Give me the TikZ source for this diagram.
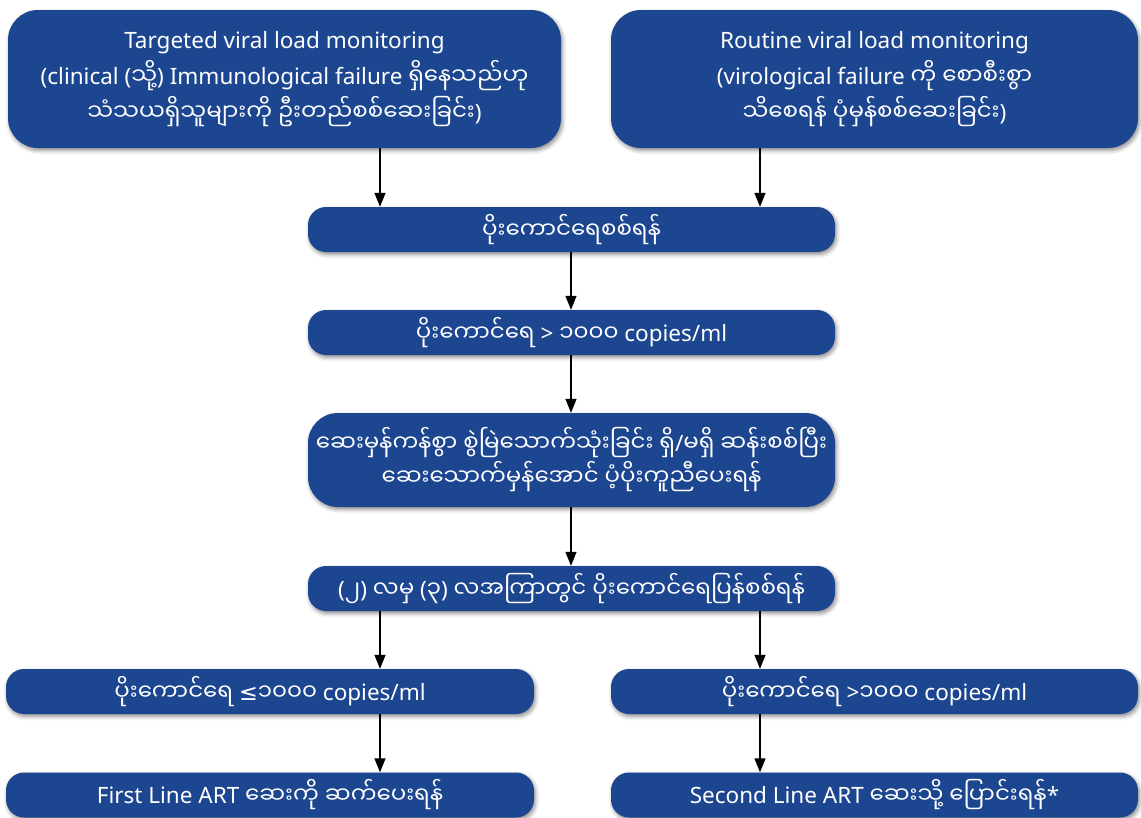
\documentclass[tikz,border=0pt]{standalone}
\usepackage{fontspec}
\setmainfont{Noto Sans}
\newfontfamily\my[Script=Myanmar,Scale=1.02]{Noto Sans Myanmar UI}
\newfontfamily\djv{DejaVu Sans}
\usetikzlibrary{arrows.meta,shadows.blur}
\definecolor{boxblue}{HTML}{1D4690}
\tikzset{
  box/.style={draw=none, fill=boxblue, text=white, align=center, inner sep=0pt,
    font=\fontsize{22.5}{36}\selectfont,
    blur shadow={shadow xshift=1.5pt, shadow yshift=-2.5pt, shadow blur radius=4pt, shadow opacity=45}},
  bigbox/.style={box, rounded corners=30pt},
  smallbox/.style={box, rounded corners=18pt, minimum width=527pt, minimum height=45pt},
  arr/.style={-{Triangle[length=14pt,width=11pt]}, line width=1.4pt, black}
}
\begin{document}
\begin{tikzpicture}[x=1pt,y=-1pt]
\useasboundingbox (0,0) rectangle (1141,817);
\coordinate (xl) at (380,0);
\coordinate (xm) at (571,0);
\coordinate (xr) at (760,0);

\node[bigbox, minimum width=553pt, minimum height=138pt] (b1) at (284.5,79)
  {Targeted viral load monitoring\\(clinical ({\my သို့}) Immunological failure {\my ရှိနေသည်ဟု}\\{\my သံသယရှိသူများကို ဦးတည်စစ်ဆေးခြင်း})};
\node[bigbox, minimum width=527pt, minimum height=138pt] (b2) at (874.5,79)
  {Routine viral load monitoring\\(virological failure {\my ကို စောစီးစွာ}\\{\my သိစေရန် ပုံမှန်စစ်ဆေးခြင်း})};
\node[smallbox] (b3) at (571.5,229.5) {\my ပိုးကောင်ရေစစ်ရန်};
\node[smallbox] (b4) at (571.5,332.5) {{\my ပိုးကောင်ရေ} > {\my ၁၀၀၀} copies/ml};
\node[bigbox, minimum width=527pt, minimum height=94pt, font=\fontsize{22.5}{34}\selectfont] (b5) at (571.5,460)
  {{\my ဆေးမှန်ကန်စွာ စွဲမြဲသောက်သုံးခြင်း ရှိ}/{\my မရှိ ဆန်းစစ်ပြီး}\\{\my ဆေးသောက်မှန်အောင် ပံ့ပိုးကူညီပေးရန်}};
\node[smallbox] (b6) at (571.5,588.5) {({\my ၂}) {\my လမှ} ({\my ၃}) {\my လအကြာတွင် ပိုးကောင်ရေပြန်စစ်ရန်}};
\node[smallbox, minimum width=528pt] (b7) at (270,691.5) {{\my ပိုးကောင်ရေ} {\djv ≤}{\my ၁၀၀၀} copies/ml};
\node[smallbox] (b8) at (874.5,691.5) {{\my ပိုးကောင်ရေ} >{\my ၁၀၀၀} copies/ml};
\node[smallbox, minimum width=528pt] (b9) at (270,795) {First Line ART {\my ဆေးကို ဆက်ပေးရန်}};
\node[smallbox] (b10) at (874.5,795) {Second Line ART {\my ဆေးသို့ ပြောင်းရန်}*};

\draw[arr] (b1.south -| xl) -- (b3.north -| xl);
\draw[arr] (b2.south -| xr) -- (b3.north -| xr);
\draw[arr] (b3.south -| xm) -- (b4.north -| xm);
\draw[arr] (b4.south -| xm) -- (b5.north -| xm);
\draw[arr] (b5.south -| xm) -- (b6.north -| xm);
\draw[arr] (b6.south -| xl) -- (b7.north -| xl);
\draw[arr] (b6.south -| xr) -- (b8.north -| xr);
\draw[arr] (b7.south -| xl) -- (b9.north -| xl);
\draw[arr] (b8.south -| xr) -- (b10.north -| xr);
\end{tikzpicture}
\end{document}
